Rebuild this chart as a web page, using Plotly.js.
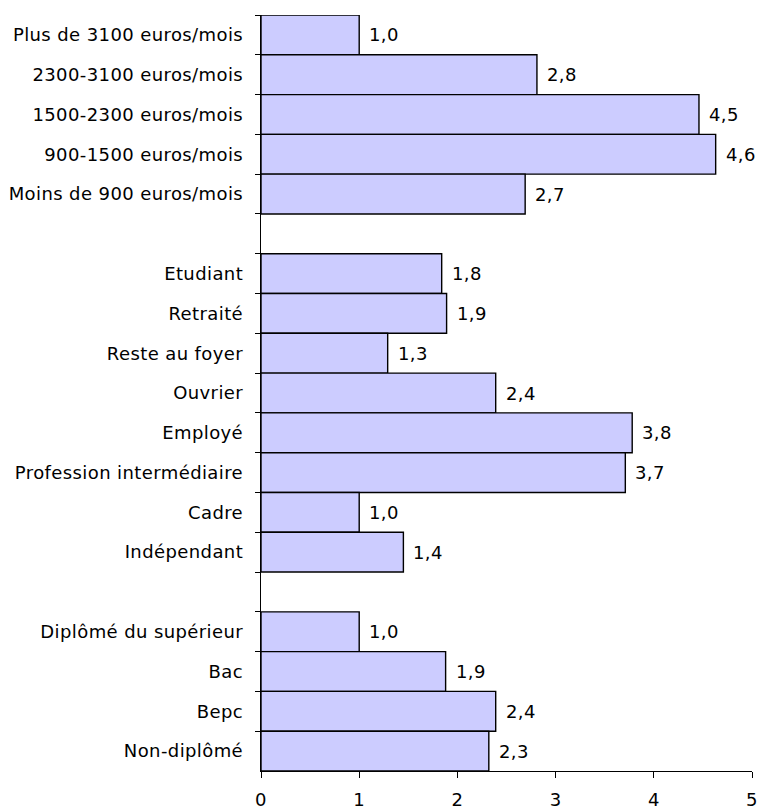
<!DOCTYPE html>
<html>
<head>
<meta charset="utf-8">
<script src="https://cdn.plot.ly/plotly-3.0.1.min.js"></script>
<style>
html,body{margin:0;padding:0;background:#fff;}
#chart{width:758px;height:812px;}
.ytick text, .xtick text, .annotation-text { letter-spacing: 0.4px; }
</style>
</head>
<body>
<div id="chart"></div>
<script>
// Revenue group (top to bottom)
const incomeCats = ["Plus de 3100 euros/mois", "2300-3100 euros/mois", "1500-2300 euros/mois", "900-1500 euros/mois", "Moins de 900 euros/mois"];
const incomeVals = [1.00, 2.81, 4.46, 4.63, 2.69];
const incomeLabels = ["1,0", "2,8", "4,5", "4,6", "2,7"];

// Occupation group
const jobCats = ["Etudiant", "Retraité", "Reste au foyer", "Ouvrier", "Employé", "Profession intermédiaire", "Cadre", "Indépendant"];
const jobVals = [1.84, 1.89, 1.29, 2.39, 3.78, 3.71, 1.00, 1.45];
const jobLabels = ["1,8", "1,9", "1,3", "2,4", "3,8", "3,7", "1,0", "1,4"];

// Education group
const eduCats = ["Diplômé du supérieur", "Bac", "Bepc", "Non-diplômé"];
const eduVals = [1.00, 1.88, 2.39, 2.32];
const eduLabels = ["1,0", "1,9", "2,4", "2,3"];

const xTicks = [0, 1, 2, 3, 4, 5];

// assemble with blank separator rows
const gap1 = " ", gap2 = "  ";
const cats = [...incomeCats, gap1, ...jobCats, gap2, ...eduCats];
const vals = [...incomeVals, null, ...jobVals, null, ...eduVals];
const labels = [...incomeLabels, "", ...jobLabels, "", ...eduLabels];

const FONT = "DejaVu Sans, Verdana, sans-serif";

const annotations = [];
cats.forEach((c, i) => {
  if (vals[i] === null) return;
  annotations.push({
    x: vals[i], y: c, xref: 'x', yref: 'y',
    text: labels[i], showarrow: false,
    xanchor: 'left', yanchor: 'middle', xshift: 8,
    font: {family: FONT, size: 18, color: '#000'}
  });
});

const trace = {
  type: 'bar', orientation: 'h',
  x: vals, y: cats,
  marker: {color: '#ccccff', line: {color: '#000', width: 1.4}},
  hoverinfo: 'skip'
};

const layout = {
  width: 758, height: 812,
  margin: {l: 261, r: 6, t: 15, b: 41, pad: 0},
  paper_bgcolor: '#fff', plot_bgcolor: '#fff',
  showlegend: false,
  bargap: 0,
  font: {family: FONT, size: 18, color: '#000'},
  xaxis: {
    range: [0, 5], tickmode: 'array', tickvals: xTicks,
    ticktext: xTicks.map(String),
    showgrid: false, zeroline: false,
    showline: true, linecolor: '#000', linewidth: 1.3,
    ticks: 'outside', ticklen: 6, tickcolor: '#000', tickwidth: 1,
    ticklabelstandoff: 6,
    tickfont: {family: FONT, size: 18, color: '#000'},
    fixedrange: true
  },
  yaxis: {
    type: 'category', categoryorder: 'array', categoryarray: cats,
    autorange: 'reversed',
    tickson: 'boundaries',
    showgrid: false, zeroline: false,
    showline: true, linecolor: '#000', linewidth: 1.3,
    ticks: 'outside', ticklen: 5, tickcolor: '#000', tickwidth: 1,
    ticklabelstandoff: 13,
    tickfont: {family: FONT, size: 18, color: '#000'},
    fixedrange: true
  },
  annotations: annotations
};

Plotly.newPlot('chart', [trace], layout, {displayModeBar: false, staticPlot: true});
</script>
</body>
</html>
